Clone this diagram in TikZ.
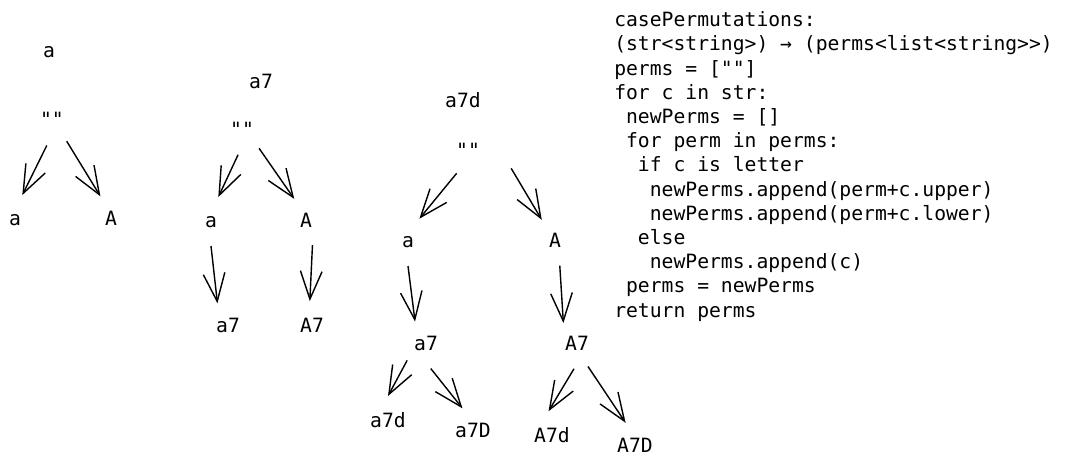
\documentclass[tikz,border=0pt]{standalone}
\usepackage{fontspec}
\setmonofont{DejaVu Sans Mono}
\usetikzlibrary{arrows.meta}

\begin{document}
\begin{tikzpicture}[
        x=0.025cm, y=-0.025cm,
        lbl/.style={circle, inner sep=0pt, outer sep=0pt, minimum size=1.25cm, text height=0.35cm, text depth=0.05cm, font=\ttfamily\fontsize{14}{17}\selectfont},
        arr/.style={-{Straight Barb[length=7mm, width=5.4mm]}, line width=1pt},
        code/.style={anchor=base west, align=left, inner sep=0pt, font=\ttfamily\fontsize{14}{17.2}\selectfont}
    ]
        \useasboundingbox (0,0) rectangle (1069,465);
        \node[lbl] (title1) at (49,52) {a};
        \node[lbl] (empty1) at (52,121) {""};
        \node[lbl] (lower1) at (15,219) {a};
        \node[lbl] (upper1) at (111,219) {A};
        \node[lbl] (title2) at (261,83) {a7};
        \node[lbl] (empty2) at (242,130) {""};
        \node[lbl] (lower2) at (211,221) {a};
        \node[lbl] (upper2) at (306,221) {A};
        \node[lbl] (lower27) at (228,326) {a7};
        \node[lbl] (upper27) at (312,326) {A7};
        \node[lbl] (title3) at (463,102) {a7d};
        \node[lbl] (empty3) at (468,151) {""};
        \node[lbl] (lower3) at (408,241) {a};
        \node[lbl] (upper3) at (555,241) {A};
        \node[lbl] (lower37) at (426,344) {a7};
        \node[lbl] (upper37) at (577,344) {A7};
        \node[lbl] (lower37d) at (388,421) {a7d};
        \node[lbl] (lower37D) at (473,431) {a7D};
        \node[lbl] (upper37d) at (552,436) {A7d};
        \node[lbl] (upper37D) at (635,446) {A7D};
        \draw[arr] (empty1.-102) -- (lower1.73);
        \draw[arr] (empty1.-54) -- (upper1.115);
        \draw[arr] (empty2.-99) -- (lower2.73);
        \draw[arr] (empty2.-47) -- (upper2.118);
        \draw[arr] (lower2.-90) -- (lower27.115);
        \draw[arr] (upper2.-75) -- (upper27.95);
        \draw[arr] (empty3.-117) -- (lower3.63);
        \draw[arr] ([shift={(20,8)}]empty3.-22) -- (upper3.122);
        \draw[arr] (lower3.-90) -- (lower37.116);
        \draw[arr] (upper3.-79) -- (upper37.123);
        \draw[arr] (lower37.-139) -- (lower37d.90);
        \draw[arr] (lower37.-79) -- (lower37D.115);
        \draw[arr] (upper37.-97) -- (upper37d.98);
        \draw[arr] (upper37.-64) -- (upper37D.112);
        \node[code] (algo) at (614,317) {casePermutations:\\
            (str<string>) → (perms<list<string>>)\\
            perms = [""]\\
            for c in str:\\
            ~newPerms = []\\
            ~for perm in perms:\\
            ~~if c is letter\\
            ~~~newPerms.append(perm+c.upper)\\
            ~~~newPerms.append(perm+c.lower)\\
            ~~else\\
            ~~~newPerms.append(c)\\
            ~perms = newPerms\\
            return perms};
    \end{tikzpicture}
\end{document}
